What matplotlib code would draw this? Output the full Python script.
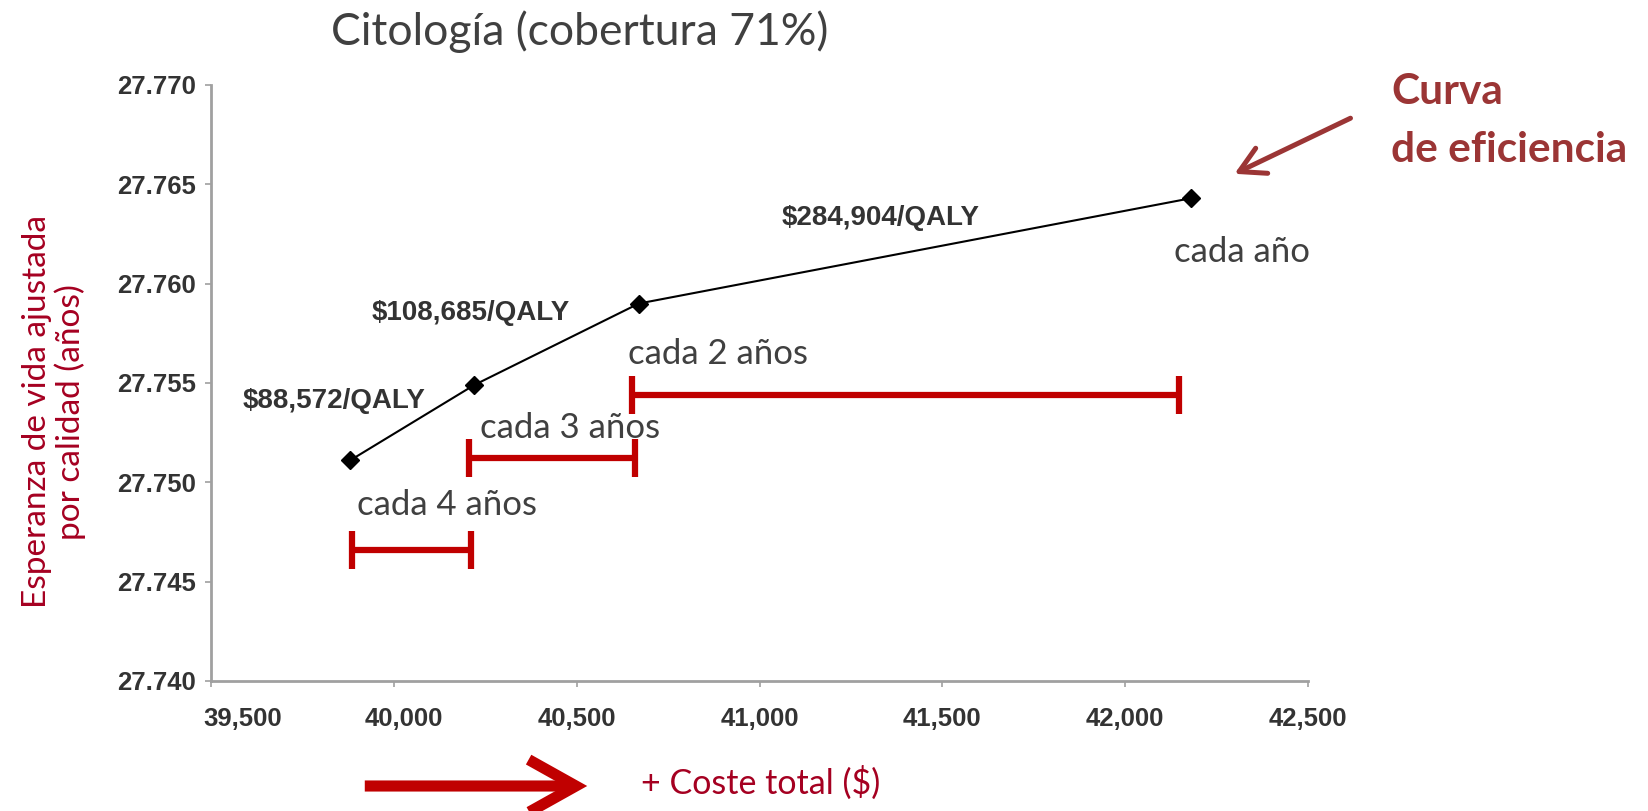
import matplotlib
matplotlib.use("Agg")
import matplotlib.pyplot as plt
import matplotlib.transforms as mtransforms
from matplotlib.patches import FancyArrowPatch
from matplotlib.ticker import FuncFormatter

# datos de la curva (coste total, QALY)
costes = [39880, 40220, 40670, 42180]
qaly = [27.7511, 27.7549, 27.7590, 27.7643]
estrategias = ["cada 4 años", "cada 3 años", "cada 2 años", "cada año"]
icer_labels = ["$88,572/QALY", "$108,685/QALY", "$284,904/QALY"]

x_ticks = [39500, 40000, 40500, 41000, 41500, 42000, 42500]
y_ticks = [27.740, 27.745, 27.750, 27.755, 27.760, 27.765, 27.770]

W, H = 1648, 811
GRIS = "#404040"
ROJO = "#C00000"
GRANATE = "#A50021"
CURVA = "#9B3535"


def fx(px):
    return px / W


def fy(py):
    return 1 - py / H


fig = plt.figure(figsize=(W / 100, H / 100), dpi=100)
ax = fig.add_axes([fx(211), fy(681), fx(1308) - fx(211), fy(85) - fy(681)])

ax.plot(costes, qaly, color="black", lw=1.5, marker="D", ms=9, zorder=3)

ax.set_xlim(39500, 42500)
ax.set_ylim(27.740, 27.770)
ax.set_xticks(x_ticks)
ax.set_yticks(y_ticks)
ax.xaxis.set_major_formatter(FuncFormatter(lambda v, p: f"{v:,.0f}"))
ax.yaxis.set_major_formatter(FuncFormatter(lambda v, p: f"{v:.3f}"))
for s in ["top", "right"]:
    ax.spines[s].set_visible(False)
for s in ["left", "bottom"]:
    ax.spines[s].set_color("#a0a0a0")
    ax.spines[s].set_linewidth(2)
ax.tick_params(axis="both", color="#a0a0a0", length=4, width=1.2,
               labelsize=18.5, labelcolor="#333333")
ax.tick_params(axis="x", pad=15)
ax.tick_params(axis="y", pad=7)
for lab in ax.get_xticklabels() + ax.get_yticklabels():
    lab.set_family("Liberation Sans")
    lab.set_weight("bold")
# las dos primeras etiquetas del eje x van algo desplazadas a la derecha
xl = ax.get_xticklabels()
xl[0].set_transform(xl[0].get_transform() + mtransforms.ScaledTranslation(0.32, 0, fig.dpi_scale_trans))
xl[1].set_transform(xl[1].get_transform() + mtransforms.ScaledTranslation(0.10, 0, fig.dpi_scale_trans))

# etiquetas ICER
icer_pos = [(334, 401), (471, 313), (881, 218)]
for txt, (px, py) in zip(icer_labels, icer_pos):
    fig.text(fx(px), fy(py), txt, ha="center", va="center", fontsize=20,
             family="Liberation Sans", weight="bold", color="#333333")

# barras rojas de coste incremental
spans = [(39885, 40212), (40205, 40660), (40652, 42148)]
niveles = [27.7466, 27.7512, 27.7544]
for (x0, x1), yv in zip(spans, niveles):
    ax.errorbar([(x0 + x1) / 2], [yv], xerr=[(x1 - x0) / 2], fmt="none",
                ecolor=ROJO, elinewidth=4.5, capsize=14, capthick=4.5,
                clip_on=False)

# textos de estrategias
est_pos = [(357, 505), (480, 428), (628, 354), (1174, 252)]
for txt, (px, py) in zip(estrategias, est_pos):
    fig.text(fx(px), fy(py), txt, ha="left", va="center",
             fontsize=25, family="Lato", color=GRIS)

fig.text(fx(580), fy(32), "Citología (cobertura 71%)", ha="center", va="center",
         fontsize=32, family="Lato", color=GRIS)

fig.text(fx(1391), fy(92), "Curva", ha="left", va="center", fontsize=30.5,
         family="Lato", weight="bold", color=CURVA)
fig.text(fx(1391), fy(150), "de eficiencia", ha="left", va="center", fontsize=30.5,
         family="Lato", weight="bold", color=CURVA)
fig.patches.append(FancyArrowPatch(
    (fx(1353), fy(117)), (fx(1232), fy(175)), transform=fig.transFigure,
    arrowstyle="->,head_length=18,head_width=10", mutation_scale=1,
    color=CURVA, lw=3.6))

fig.text(fx(54), fy(412), "Esperanza de vida ajustada\npor calidad (años)",
         rotation=90, ha="center", va="center", fontsize=24, family="Lato",
         color=GRANATE, linespacing=1.1)

fig.text(fx(641), fy(783), "+ Coste total ($)", ha="left", va="center",
         fontsize=24.5, family="Lato", color=GRANATE)
fig.patches.append(FancyArrowPatch(
    (fx(362), fy(786)), (fx(590), fy(786)), transform=fig.transFigure,
    arrowstyle="->,head_length=34,head_width=19", mutation_scale=1,
    color=ROJO, lw=8, joinstyle="miter", capstyle="butt"))

fig.savefig("out.png", dpi=100)
